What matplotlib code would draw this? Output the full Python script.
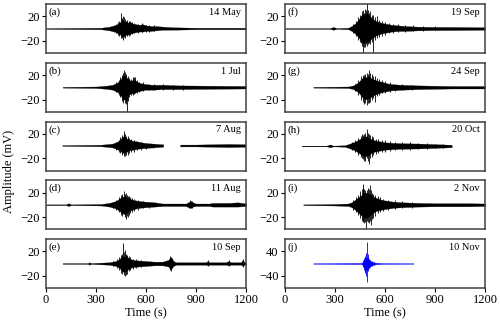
import numpy as np
import matplotlib
matplotlib.use('Agg')
import matplotlib.pyplot as plt

plt.rcParams['font.family'] = ['Liberation Serif', 'DejaVu Serif']

# panel labels and dates
labels = ['(a)', '(b)', '(c)', '(d)', '(e)', '(f)', '(g)', '(h)', '(i)', '(j)']
dates = ['14 May', '1 Jul', '7 Aug', '11 Aug', '10 Sep',
         '19 Sep', '24 Sep', '20 Oct', '2 Nov', '10 Nov']

# envelope of each trace (time in s, amplitude in mV)
# *_t/*_up/*_lo = dark core, *_st/*_su/*_sl = single peaks sticking out
a_t = [0, 330, 380, 420, 440, 450, 460, 470, 480, 490, 500, 510, 520, 540, 560, 580, 600, 630, 660, 700, 760, 900, 1200]
a_up = [0.6, 1.2, 3, 6, 9, 12, 14, 11, 12, 10, 9, 10, 8, 7, 6, 7, 5, 4, 4, 3, 2, 1.2, 1.2]
a_lo = [-0.6, -1.2, -3, -6, -9, -11, -13, -12, -10, -10, -9, -8, -7, -6, -5, -5, -4, -4, -3, -2, -2, -1.2, -1.2]
a_st = [420, 430, 440, 447, 452, 458, 462, 470, 476, 485, 495, 505, 515, 530, 550, 575, 600, 620, 650]
a_su = [8, 10, 12, 16, 25, 17, 20, 18, 15, 14, 12, 13, 10, 9, 8, 9, 6, 5, 5]
a_sl = [-8, -10, -12, -15, -10, -16, -18, -14, -16, -13, -12, -10, -9, -8, -7, -6, -5, -5, -4]

b_t = [100, 300, 360, 400, 430, 450, 460, 470, 480, 490, 500, 510, 520, 530, 540, 560, 580, 600, 640, 700, 800, 1000, 1200]
b_up = [0.6, 1.2, 2.5, 4, 8, 14, 18, 20, 17, 14, 12, 10, 12, 13, 10, 7, 6, 5, 4, 4, 3, 2.5, 2]
b_lo = [-0.6, -1.2, -2.5, -4, -8, -14, -20, -20, -22, -18, -12, -10, -10, -9, -8, -6, -5, -4, -4, -3, -3, -2.5, -2]
b_st = [420, 435, 445, 455, 462, 468, 475, 480, 486, 492, 500, 510, 520, 528, 535, 545, 560, 580, 610, 650, 700, 760, 820]
b_su = [8, 12, 16, 20, 24, 28, 25, 22, 10, 18, 15, 13, 16, 17, 17, 12, 9, 8, 6, 5, 5, 4, 4]
b_sl = [-8, -12, -16, -22, -25, -15, -25, -28, -40, -22, -16, -13, -12, -11, -10, -9, -7, -6, -5, -5, -4, -4, -4]

c_t = [100, 330, 400, 430, 450, 460, 470, 480, 490, 500, 520, 540, 560, 600, 650, 700, 706, 707, 807, 808, 900, 1000, 1100, 1200]
c_up = [0.6, 1.2, 3, 6, 10, 14, 15, 13, 11, 10, 8, 7, 6, 4, 3, 2, 2, np.nan, np.nan, 1.5, 1.5, 2, 2.5, 2]
c_lo = [-0.6, -1.2, -3, -6, -9, -12, -12, -11, -10, -8, -7, -6, -5, -4, -3, -2, -2, np.nan, np.nan, -1.5, -1.5, -2, -2.5, -2]
c_st = [420, 435, 445, 455, 465, 470, 475, 482, 490, 500, 510, 525, 545, 570, 600, 640]
c_su = [7, 10, 14, 18, 25, 19, 20, 17, 17, 13, 11, 10, 8, 7, 5, 4]
c_sl = [-7, -10, -12, -15, -12, -16, -17, -15, -14, -11, -10, -9, -7, -6, -5, -4]

d_t = [0, 120, 135, 150, 330, 380, 420, 440, 460, 470, 480, 490, 500, 520, 540, 560, 600, 650, 700, 840, 860, 870, 880, 900, 980, 1000, 1100, 1150, 1200]
d_up = [0.6, 0.6, 2.5, 0.6, 1.2, 3, 6, 10, 13, 14, 13, 11, 10, 8, 7, 6, 5, 4, 2, 2, 5, 6, 4, 2, 2, 3, 3, 4, 2]
d_lo = [-0.6, -0.6, -2, -0.6, -1.2, -3, -6, -10, -14, -15, -14, -12, -10, -8, -6, -5, -4, -3, -2, -2, -5, -5, -3, -2, -2, -3, -3, -3, -2]
d_st = [400, 420, 435, 448, 458, 465, 472, 478, 485, 490, 498, 505, 515, 530, 550, 580, 620, 865, 875]
d_su = [5, 8, 12, 16, 18, 22, 18, 20, 16, 15, 14, 12, 11, 10, 8, 6, 5, 7, 6]
d_sl = [-5, -8, -12, -17, -18, -15, -20, -23, -18, -20, -16, -14, -12, -10, -8, -6, -5, -6, -6]

e_t = [100, 250, 260, 270, 380, 420, 440, 450, 460, 470, 480, 490, 500, 520, 550, 600, 650, 700, 735, 745, 755, 765, 780, 960, 970, 980, 1080, 1095, 1110, 1170, 1180, 1190, 1200]
e_up = [0.6, 0.6, 2, 0.6, 2, 4, 7, 10, 12, 11, 13, 10, 8, 6, 5, 4, 3, 3, 6, 10, 8, 4, 2, 2, 4, 2, 2, 4, 2, 2, 6, 2, 2]
e_lo = [-0.6, -0.6, -2, -0.6, -2, -4, -7, -10, -13, -14, -12, -10, -8, -6, -5, -4, -3, -3, -5, -9, -7, -4, -2, -2, -3, -2, -2, -3, -2, -2, -4, -2, -2]
e_st = [400, 425, 440, 450, 456, 462, 468, 475, 480, 488, 495, 505, 520, 540, 570, 745, 750, 755, 970, 1095, 1180]
e_su = [4, 7, 10, 14, 16, 33, 18, 22, 15, 14, 12, 10, 8, 7, 5, 12, 10, 9, 5, 5, 8]
e_sl = [-4, -7, -11, -15, -17, -12, -18, -21, -18, -17, -13, -11, -9, -7, -5, -10, -12, -8, -4, -4, -5]

f_t = [0, 270, 290, 310, 380, 400, 420, 440, 450, 460, 470, 480, 490, 500, 510, 520, 530, 540, 560, 580, 600, 640, 680, 720, 800, 900, 1000, 1200]
f_up = [0.6, 0.6, 2.5, 0.6, 1.2, 4, 8, 14, 18, 22, 24, 22, 26, 22, 20, 17, 15, 13, 11, 9, 8, 6, 5, 4, 3, 2.5, 2.5, 2]
f_lo = [-0.6, -0.6, -2, -0.6, -1.2, -4, -8, -14, -18, -22, -24, -22, -22, -20, -19, -16, -15, -12, -10, -8, -7, -5, -4, -4, -3, -2.5, -2.5, -2]
f_st = [410, 425, 440, 450, 455, 460, 466, 472, 480, 486, 493, 500, 506, 512, 520, 530, 540, 550, 565, 580, 600, 625, 650, 680, 720, 770, 830, 900]
f_su = [8, 12, 18, 22, 20, 28, 30, 26, 32, 30, 42, 30, 26, 28, 22, 22, 18, 20, 14, 12, 10, 9, 8, 7, 6, 5, 4, 4]
f_sl = [-8, -12, -18, -22, -24, -28, -42, -30, -30, -26, -28, -26, -24, -25, -22, -42, -18, -15, -14, -12, -10, -8, -7, -6, -5, -4, -4, -3]

g_t = [170, 380, 410, 440, 460, 470, 480, 490, 500, 510, 520, 530, 540, 560, 580, 600, 640, 700, 800, 900, 1000, 1200]
g_up = [0.6, 1.2, 3, 8, 14, 16, 17, 16, 18, 16, 14, 13, 12, 10, 9, 7, 5, 4, 3, 2.5, 2, 2]
g_lo = [-0.6, -1.2, -3, -8, -15, -18, -20, -19, -18, -17, -15, -13, -12, -10, -8, -7, -5, -4, -3, -2.5, -2, -2]
g_st = [420, 440, 455, 465, 475, 482, 490, 497, 505, 512, 520, 530, 540, 550, 565, 580, 600, 630, 660, 700, 760]
g_su = [6, 12, 18, 20, 20, 22, 24, 22, 28, 24, 22, 18, 18, 15, 13, 12, 10, 8, 6, 5, 4]
g_sl = [-6, -12, -20, -24, -28, -26, -29, -25, -26, -24, -20, -18, -24, -14, -12, -10, -9, -7, -6, -5, -4]

h_t = [100, 250, 270, 290, 360, 390, 420, 440, 460, 470, 480, 490, 500, 510, 520, 540, 560, 600, 650, 700, 800, 900, 1000]
h_up = [0.6, 0.6, 2.5, 0.6, 1.2, 4, 7, 10, 13, 14, 15, 16, 14, 12, 11, 9, 8, 6, 5, 4.5, 4, 3, 2]
h_lo = [-0.6, -0.6, -2, -0.6, -1.2, -4, -7, -11, -14, -16, -17, -16, -15, -13, -11, -9, -8, -6, -5, -4.5, -4, -3, -2]
h_st = [400, 420, 440, 455, 462, 470, 476, 482, 490, 497, 505, 512, 520, 530, 545, 560, 580, 600, 630, 660, 700, 750, 800, 850, 900, 950]
h_su = [6, 9, 13, 17, 19, 18, 20, 22, 28, 22, 20, 18, 16, 14, 12, 11, 10, 9, 8, 7, 6, 6, 5, 5, 4, 4]
h_sl = [-6, -9, -14, -18, -20, -22, -24, -25, -20, -24, -29, -20, -18, -15, -13, -11, -10, -9, -8, -7, -6, -6, -5, -5, -4, -4]

i_t = [110, 300, 380, 400, 420, 440, 460, 470, 480, 490, 500, 510, 520, 530, 540, 560, 580, 600, 650, 700, 800, 900, 1100, 1200]
i_up = [0.6, 1.2, 2, 4, 8, 12, 16, 18, 20, 19, 18, 17, 15, 13, 12, 10, 8, 7, 5, 4, 3, 2.5, 2.5, 2]
i_lo = [-0.6, -1.2, -2, -4, -8, -13, -18, -20, -22, -21, -19, -17, -15, -13, -11, -9, -8, -7, -5, -4, -3, -2.5, -2.5, -2]
i_st = [410, 425, 440, 452, 460, 465, 470, 475, 480, 486, 493, 500, 505, 510, 516, 522, 530, 540, 555, 570, 590, 620, 660, 700, 760]
i_su = [8, 12, 16, 22, 26, 34, 28, 25, 24, 20, 24, 28, 26, 32, 24, 20, 18, 16, 14, 12, 10, 8, 7, 6, 5]
i_sl = [-8, -12, -17, -22, -26, -25, -28, -30, -28, -42, -26, -28, -30, -26, -33, -24, -22, -18, -14, -12, -10, -8, -7, -6, -5]

j_t = [170, 460, 470, 480, 490, 500, 510, 520, 540, 560, 580, 770]
j_up = [1, 2, 8, 18, 20, 16, 10, 6, 3, 2, 1.5, 1]
j_lo = [-1, -2, -8, -20, -22, -16, -10, -6, -3, -2, -1.5, -1]
j_st = [470, 475, 478, 482, 485, 490, 495, 500, 505, 512, 520, 535]
j_su = [10, 18, 20, 25, 35, 69, 30, 22, 16, 12, 8, 5]
j_sl = [-10, -20, -30, -28, -40, -62, -25, -22, -16, -12, -8, -5]

traces = [(a_t, a_up, a_lo, a_st, a_su, a_sl), (b_t, b_up, b_lo, b_st, b_su, b_sl),
          (c_t, c_up, c_lo, c_st, c_su, c_sl), (d_t, d_up, d_lo, d_st, d_su, d_sl),
          (e_t, e_up, e_lo, e_st, e_su, e_sl), (f_t, f_up, f_lo, f_st, f_su, f_sl),
          (g_t, g_up, g_lo, g_st, g_su, g_sl), (h_t, h_up, h_lo, h_st, h_su, h_sl),
          (i_t, i_up, i_lo, i_st, i_su, i_sl), (j_t, j_up, j_lo, j_st, j_su, j_sl)]

fig = plt.figure(figsize=(5.0, 3.23), dpi=100)
W, H = 500.0, 323.0
lefts = [46, 285]
for k in range(10):
    col, row = k // 5, k % 5
    top = 4 + row * 58.75
    ax = fig.add_axes([lefts[col] / W, 1 - (top + 49) / H, 200 / W, 49 / H])
    t, up, lo, st, su, sl = traces[k]
    color = 'blue' if k == 9 else 'black'
    ax.fill_between(t, lo, up, color=color, lw=0.2)
    ax.vlines(st, sl, su, color=color, lw=0.6)
    ax.set_xlim(0, 1200)
    if k == 9:
        ax.set_ylim(-80, 80)
        ax.set_yticks([-40, 40])
    else:
        ax.set_ylim(-40, 40)
        ax.set_yticks([-20, 20])
    ax.set_xticks([0, 300, 600, 900, 1200])
    if row == 4:
        ax.set_xlabel('Time (s)', fontsize=9, labelpad=1)
    else:
        ax.tick_params(axis='x', bottom=False, labelbottom=False)
    ax.tick_params(labelsize=9, length=3, width=0.8, pad=1.5)
    for sp in ax.spines.values():
        sp.set_color('#404040')
        sp.set_linewidth(1.1)
    ax.text(0.012, 0.83, labels[k], transform=ax.transAxes, fontsize=8, va='center', ha='left')
    ax.text(0.975, 0.83, dates[k], transform=ax.transAxes, fontsize=7.5, va='center', ha='right')

fig.text(0.018, 0.47, 'Amplitude (mV)', rotation=90, fontsize=9, va='center', ha='center')
fig.savefig('out.png', dpi=100)
